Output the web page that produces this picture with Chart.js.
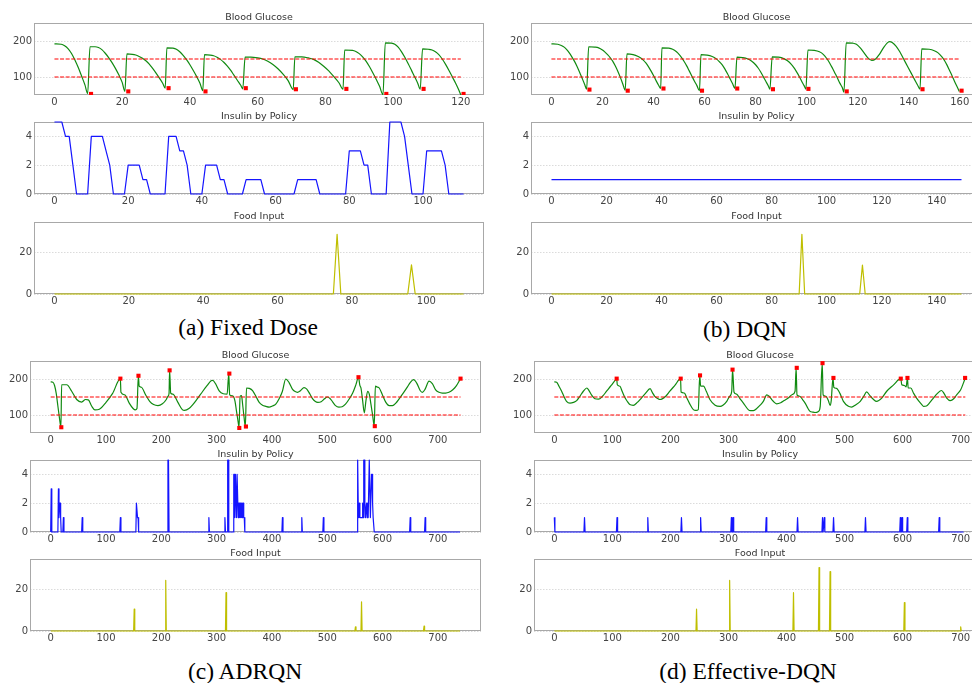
<!DOCTYPE html>
<html>
<head>
<meta charset="utf-8">
<script src="https://cdn.jsdelivr.net/npm/chart.js@4/dist/chart.umd.min.js"></script>
<style>
  body { margin: 0; background: #fff; width: 972px; height: 683px; overflow: hidden; position: relative; }
  canvas { position: absolute; }
  .cap { position: absolute; font-family: "Liberation Serif", "Times New Roman", serif; font-size: 23.5px; color: #000;
         transform: translate(-50%, -50%); white-space: nowrap; }
</style>
</head>
<body>
<div class="cap" style="left:248px;top:327px">(a) Fixed Dose</div>
<div class="cap" style="left:745px;top:329px">(b) DQN</div>
<div class="cap" style="left:245px;top:671px">(c) ADRQN</div>
<div class="cap" style="left:748px;top:671px">(d) Effective-DQN</div>
<script>
// ---- data: [time, value] ----
const targetRange = [100, 150];
const bgTicks = [100, 200];
const insulinTicks = [0, 2, 4];
const foodTicks = [0, 20];
const ticksA = [0, 20, 40, 60, 80, 100, 120];
const ticksAsub = [0, 20, 40, 60, 80, 100];
const ticksB = [0, 20, 40, 60, 80, 100, 120, 140, 160];
const ticksBsub = [0, 20, 40, 60, 80, 100, 120, 140];
const ticksCD = [0, 100, 200, 300, 400, 500, 600, 700];

// (a) Fixed Dose
const bgA = [[0,192],[2,191],[3,187],[4,179],[5,166],[6,148],[7,127],[8,103],[9,78],[9.8,54],
  [10.5,184],[12,184],[13,182],[14,176],[15,166],[16,154],[17,140],[18,124],[19,106],[20,85],[20.8,60],
  [21.4,164],[23,163],[24,161],[25,157],[26,152],[27,145],[28,136],[29,124],[30,111],[31,97],[32,82],[32.7,69],
  [33.2,181],[35,180],[36,177],[37,170],[38,160],[39,148],[40,134],[41,118],[42,101],[43,82],[43.8,62],
  [44.3,162],[46,161],[47,159],[48,155],[49,149],[50,141],[51,131],[52,119],[53,105],[54,91],[55,77],[55.6,67],
  [56.3,155],[58,155],[60,153],[61.5,150],[63,144],[64.5,135],[66,123],[67.5,108],[69,90],[70.5,65],
  [71,156],[73,156],[75,153],[76.5,149],[78,141],[79.5,130],[81,117],[82.5,101],[84,84],[85.2,66],
  [85.7,175],[88,174],[89,171],[90,165],[91,156],[92,144],[93,129],[94,112],[95,94],[96,74],[97,51],
  [97.7,195],[99.5,194],[100.5,191],[101.5,183],[102.5,170],[103.5,154],[104.5,136],[105.5,117],[106.5,98],[107.3,82],[108,66],
  [108.7,178],[110.5,177],[111.5,175],[112.5,170],[113.5,162],[114.5,150],[115.5,135],[116.5,118],[117.5,100],[118.5,82],[119.3,66],[120,50]];
const markA = [[10.8,53],[21.8,60],[33.7,69],[44.6,60],[56.5,69],[71.3,66],[86.2,67],[98,53],[109,67],[120.8,53]];
const insulinA = [5,5,5,4,4,2,0,0,0,0, 4,4,4,4,3,2,0,0,0,0, 2,2,2,2,1,1,0,0,0,0, 0,4,4,4,3,3,2,0,0,0,
  0,2,2,2,2,1,1,0,0,0, 0,0,1,1,1,1,1,0,0,0, 0,0,0,0,0,0,1,1,1,1, 1,1,0,0,0,0,0,0,0,0,
  3,3,3,3,2,2,0,0,0,0, 0,5,5,5,5,4,2,0,0,0, 0,3,3,3,3,3,2,0,0,0, 0,0];
const foodA = [[0,0],[75,0],[76,28.7],[77,0],[95,0],[96,14],[97,0],[110,0]];

// (b) DQN
const bgB = [[0,192],[2.5,191],[4,187],[5,183],[6,176],[7,167],[8,156],[9,144],[10,130],[11,114],[12,97],[13,80],[13.8,66],
  [14.6,184],[17,183],[18.5,181],[20,175],[21,169],[22,162],[23,154],[24,144],[25,131],[26,116],[27,99],[28,80],[28.9,63],
  [29.6,164],[32,162],[34,157],[35,153],[36,147],[37,139],[38,129],[39,117],[40,104],[41,90],[42,77],[42.8,68],
  [43.3,181],[46,180],[47.5,177],[49,170],[50,163],[51,154],[52,143],[53,131],[54,117],[55,103],[56,89],[57,76],[58,62],
  [58.6,162],[61,161],[63,157],[64.5,151],[66,141],[67,133],[68,122],[69,109],[70,95],[71,81],[71.9,68],
  [72.7,155],[75,154],[77,150],[78.5,144],[80,134],[81,125],[82,114],[83,101],[84,88],[85,75],[85.6,66],
  [86.5,156],[89,155],[91,151],[92.5,145],[94,135],[95,126],[96,115],[97,103],[98,89],[99,76],[99.7,66],
  [100.5,175],[103,174],[105,170],[106.5,163],[108,150],[109,139],[110,126],[111,112],[112,98],[113,83],[114,70],[114.6,58],
  [115.5,195],[118,194],[119.5,191],[121,181],[122.5,167],[124,153],[125.5,146],[127,150],[128.5,163],[130,180],[131.5,194],
  [132.5,198],[133.5,196],[135,186],[136.5,170],[138,150],[139.5,130],[141,110],[142.5,90],[143.5,77],[144.4,66],
  [145.1,178],[148,177],[150,173],[151.5,167],[153,156],[154,146],[155,133],[156,118],[157,103],[158,87],[159,72],[159.8,60]];
const markB = [[14.9,65],[29.9,62],[43.9,68],[59,62],[72.8,68],[86.8,66],[100.7,67],[115.7,60],[145.4,66],[160.7,62]];
const insulinB = [[0,1],[149,1]];
const foodB = [[0,0],[90,0],[91,28.7],[92,0],[112,0],[113,13.9],[114,0],[149,0]];

// (c) ADRQN
const bgC = [[0,192],[4,191],[7,182],[10,160],[13,125],[16,90],[18.5,66],
  [19.8,184],[29,184],[38,166],[47,143],[56,136],[63,143],[68,142],[74,125],[80,114],[88,116],[100,135],[112,160],[126,201],
  [127,163],[134,156],[142,133],[149,118],[153,114],[156,118],[158.5,209],[160,180],[164,177],[172,155],[179,138],[186,129],
  [194,126],[202,131],[209,143],[212,152],[214,160],[215,224],[217,161],[221,158],[230,135],[238,115],[242,113],[250,118],
  [257,129],[266,147],[275,166],[283,182],[290,195],[293,196],[298,187],[305,166],[312,159],[319,158],[322,215],
  [323.5,156],[329,153],[333,140],[336,110],[339,80],[340.5,66],[342.5,152],[345,154],[347,130],[349.5,95],[352,68],
  [354,175],[359,174],[365,168],[371,152],[377,135],[383,127],[389,124],[395,122],[401,125],[407,130],[413,145],[419,166],
  [425,200],[431,190],[437,172],[442,165],[446,163],[452,168],[458,176],[463,172],[468,160],[473,146],[478,138],[483,135],
  [489,137],[495,145],[500,150],[505,146],[510,136],[515,126],[521,122],[527,123],[533,130],[540,145],[546,161],[552,185],
  [556.5,205],[559,182],[561,175],[564,140],[567,106],[570,140],[573,166],[576,158],[579,130],[582,100],[585,70],
  [587,180],[590,178],[594,175],[600,155],[606,135],[612,126],[618,126],[624,133],[630,145],[638,162],[645,178],[650,190],
  [656,198],[662,188],[668,168],[672,163],[677,172],[684,194],[690,187],[696,170],[702,163],[708,161],[714,161],[720,163],
  [727,170],[733,180],[741,201]];
const markC = [[19.2,66],[126,201],[158.7,209],[215,224],[323,215],[341,64],[353,68],[556.5,205],[586,69],[741,201]];
const insulinC = [[0,0],[1,3],[2,0],[13,0],[14,3],[15,1],[16,2],[17,2],[18,1],[19,0],[22,0],[23,1],[24,0],[56,0],[57,1],[58,0],
  [125,0],[126,1],[127,0],[154,0],[155,2],[156,2],[157,1],[158,1],[159,0],[211,0],[212,5],[213,5],[214,0],[285,0],[286,1],[287,0],
  [314,0],[315,1],[316,0],[319,0],[320,5],[321,5],[322,0],[330,0],[331,4],[332,4],[333,1],[334,4],[335,4],[336,1],[337,4],[338,4],
  [339,1],[340,2],[341,2],[342,1],[343,2],[344,1],[345,2],[346,1],[347,2],[348,2],[349,1],[350,1],[351,0],[418,0],[419,1],[420,0],
  [453,0],[454,1],[455,0],[492,0],[493,1],[494,0],[554,0],[555,5],[556,2],[557,1],[558,2],[559,1],[560,1],[561,1],[562,1],[563,1],
  [564,2],[565,1],[566,5],[567,5],[568,2],[569,1],[570,1],[571,2],[572,1],[573,2],[574,1],[575,1],[576,5],[577,5],[578,1],[579,1],
  [580,4],[581,4],[582,2],[583,1],[584,1],[585,0],[649,0],[650,1],[651,0],[676,0],[677,1],[678,0],[740,0]];
const foodC = [[0,0],[150,0],[151,10.5],[152,0],[207,0],[208,24.4],[209,0],[316,0],[317,18.4],[318,0],[550,0],[551,2],[552,0],
  [561,0],[562,14],[563,0],[674,0],[675,2.3],[676,0],[740,0]];

// (d) Effective-DQN
const bgD = [[0,192],[4,191],[8,180],[12.6,166],[17,150],[21,138],[27,133],[33,135],[38.5,140],[44,152],[50,166],[56,175],
  [60,167],[64,156],[70,145],[76,144],[83,152],[90,166],[98,182],[106,199],[107.4,201],
  [108.5,184],[113,180],[117,165],[122,147],[126,137],[130,129],[136,127],[143,135],[150,147],[157,160],[165,173],[169,162],
  [173,152],[178,146],[182,143],[185,144],[192,152],[199,166],[208,183],[217.5,201],
  [218.3,164],[224,161],[228,148],[232.6,133],[239.5,115],[244,113],[248,115],[250.5,210],[252,180],[257,180],[262,165],
  [268,143],[277,127],[285.5,124],[291,128],[297,138],[302,152],[305.6,166],[307,226],[309.6,163],[314,158],[320,145],
  [325.7,133],[334,115],[338,112],[343,112],[350,120],[355,128],[360,138],[366,156],[370,152],[374.5,143],[379,135],[383,131],
  [390,134],[396,140],[403,147],[410,157],[414.7,166],[416.5,231],[418,156],[423,152],[428,142],[432,133],[437,118],
  [440.5,110],[445,108],[449,107],[455,110],[458,124],[461.5,244],[463,156],[468,152],[472,140],[475,127],[477,140],[480,203],
  [481.5,177],[486,174],[492,160],[498,138],[506.6,124],[512,122],[519,128],[527,138],[533,152],[538,164],[544,153],[550,143],
  [555,138],[564,147],[572.6,166],[584,183],[596.8,201],[598.5,184],[603,182],[606,178],[608.3,203],[609.5,175],[614,175],
  [619,160],[624,147],[633,129],[636,124],[641,125],[647,135],[653,147],[660,160],[667,168],[672,158],[676,147],[682,140],
  [688,145],[693,156],[700,170],[705,190],[708,203]];
const markD = [[107.4,201],[217.7,201],[251,210],[307,226],[417.6,231],[462,244],[480.8,203],[596.8,201],[608.3,203],[707.6,203]];
const insulinD = [[0,1],[1,0],[51,0],[52,1],[53,0],[107,0],[108,1],[109,0],[160,0],[161,1],[162,0],[218,0],[219,1],[220,0],
  [251,0],[252,1],[253,0],[304,0],[305,1],[306,0],[307,0],[308,1],[309,0],[364,0],[365,1],[366,0],[418,0],[419,1],[420,0],
  [461,0],[462,1],[463,0],[464,0],[465,1],[466,0],[480,0],[481,1],[482,0],[535,0],[536,1],[537,0],[595,0],[596,1],[597,0],
  [598,0],[599,1],[600,0],[607,0],[608,1],[609,0],[662,0],[663,1],[664,0],[705,0]];
const foodD = [[0,0],[244,0],[245,10.5],[246,0],[301,0],[302,24.3],[303,0],[411,0],[412,18.4],[413,0],[455,0],[456,30.5],
  [457,0],[474,0],[475,28.5],[476,0],[602,0],[603,13.7],[604,0],[699,0],[700,2],[701,0],[702,0]];

// ---- drawing ----
const GREEN = '#108a10', RED = '#ff0000', BLUE = '#1515ff', OLIVE = '#bfbf00';
const AX_W = 32, AX_H = 18, PAD_T = 16, PAD_R = 14;

Chart.defaults.font.family = 'DejaVu Sans';

Chart.register({
  id: 'panelFrame',
  beforeDatasetsDraw(chart) {
    const a = chart.chartArea, c = chart.ctx;
    c.save();
    c.strokeStyle = '#a8a8a8';
    c.lineWidth = 1;
    c.strokeRect(Math.round(a.left) + 0.5, Math.round(a.top) + 0.5,
                 Math.round(a.right - a.left) - 1, Math.round(a.bottom - a.top) - 1);
    c.restore();
  },
  afterDraw(chart, args, opts) {
    const a = chart.chartArea, c = chart.ctx;
    c.save();
    c.fillStyle = '#333';
    c.font = '9.5px "DejaVu Sans"';
    c.textAlign = 'center';
    c.textBaseline = 'middle';
    c.fillText(opts.text, (a.left + a.right) / 2, a.top - 5.5);
    c.restore();
  }
});

const xy = pairs => pairs.map(p => ({ x: p[0], y: p[1] }));

function bgSets(curve, marks, dashEnd) {
  return [
    { data: xy(marks), showLine: false, pointRadius: 2.9, pointStyle: 'rect',
      pointBackgroundColor: RED, pointBorderWidth: 0 },
    ...targetRange.map(v => ({ data: [{ x: 0, y: v }, { x: dashEnd, y: v }],
      borderColor: RED, borderWidth: 1, borderDash: [4, 1.6] })),
    { data: xy(curve), borderColor: GREEN, borderWidth: 1.2, cubicInterpolationMode: 'monotone' }
  ];
}
const lineSet = (pairs, color) => [{ data: xy(pairs), borderColor: color, borderWidth: 1.2, clip: 2 }];

function panel(box, xr, yr, xt, yt, title, datasets) {
  const cv = document.createElement('canvas');
  const w = box.r - box.l + AX_W + PAD_R, h = box.b - box.t + PAD_T + AX_H;
  cv.width = w; cv.height = h;
  cv.style.left = (box.l - AX_W) + 'px';
  cv.style.top = (box.t - PAD_T) + 'px';
  cv.style.width = w + 'px';
  cv.style.height = h + 'px';
  document.body.appendChild(cv);
  const tickFont = { family: 'DejaVu Sans', size: 10 };
  new Chart(cv, {
    type: 'line',
    data: { datasets },
    options: {
      responsive: false, animation: false, devicePixelRatio: 1,
      layout: { padding: { top: PAD_T, right: PAD_R, left: 0, bottom: 0 } },
      elements: { point: { radius: 0 }, line: { borderJoinStyle: 'round' } },
      plugins: { legend: { display: false }, tooltip: { enabled: false }, panelFrame: { text: title } },
      scales: {
        x: {
          type: 'linear', min: xr[0], max: xr[1],
          afterBuildTicks: s => { s.ticks = xt.map(v => ({ value: v })); },
          afterFit: s => { s.height = AX_H; },
          grid: { display: false, drawTicks: false },
          border: { display: false },
          ticks: { padding: 1, color: '#444', font: tickFont, maxRotation: 0, autoSkip: false }
        },
        y: {
          type: 'linear', min: yr[0], max: yr[1],
          afterBuildTicks: s => { s.ticks = yt.map(v => ({ value: v })); },
          afterFit: s => { s.width = AX_W; },
          grid: { color: '#d2d2d2', lineWidth: 0.8, drawTicks: false },
          border: { display: false, dash: [1.5, 1.5] },
          ticks: { padding: 2, color: '#444', font: tickFont }
        }
      }
    }
  });
}

const BG_Y = [50, 250], INS_Y = [0, 5], FOOD_Y = [0, 34.6];
const rowTop = { bg: 23, ins: 122, food: 222 }, rowBot = { bg: 361, ins: 460, food: 559 };
const H = 72;

// (a)
panel({ l: 34, t: rowTop.bg, r: 484, b: rowTop.bg + H }, [-6.04, 126.84], BG_Y, ticksA, bgTicks,
      'Blood Glucose', bgSets(bgA, markA, 120));
panel({ l: 34, t: rowTop.ins, r: 484, b: rowTop.ins + H }, [-5.55, 116.55], INS_Y, ticksAsub, insulinTicks,
      'Insulin by Policy', lineSet(insulinA.map((v, i) => [i, v]), BLUE));
panel({ l: 34, t: rowTop.food, r: 484, b: rowTop.food + H }, [-5.5, 115.5], FOOD_Y, ticksAsub, foodTicks,
      'Food Input', lineSet(foodA, OLIVE));
// (b)
panel({ l: 531, t: rowTop.bg, r: 982, b: rowTop.bg + H }, [-8, 168.7], BG_Y, ticksB, bgTicks,
      'Blood Glucose', bgSets(bgB, markB, 160));
panel({ l: 531, t: rowTop.ins, r: 982, b: rowTop.ins + H }, [-7.45, 156.45], INS_Y, ticksBsub, insulinTicks,
      'Insulin by Policy', lineSet(insulinB, BLUE));
panel({ l: 531, t: rowTop.food, r: 982, b: rowTop.food + H }, [-7.45, 156.45], FOOD_Y, ticksBsub, foodTicks,
      'Food Input', lineSet(foodB, OLIVE));
// (c)
panel({ l: 30, t: rowBot.bg, r: 481, b: rowBot.bg + H }, [-37.4, 778], BG_Y, ticksCD, bgTicks,
      'Blood Glucose', bgSets(bgC, markC, 741));
panel({ l: 30, t: rowBot.ins, r: 481, b: rowBot.ins + H }, [-37.4, 778], INS_Y, ticksCD, insulinTicks,
      'Insulin by Policy', lineSet(insulinC, BLUE));
panel({ l: 30, t: rowBot.food, r: 481, b: rowBot.food + H }, [-37.4, 778], FOOD_Y, ticksCD, foodTicks,
      'Food Input', lineSet(foodC, OLIVE));
// (d)
panel({ l: 534, t: rowBot.bg, r: 986, b: rowBot.bg + H }, [-35, 743.6], BG_Y, ticksCD, bgTicks,
      'Blood Glucose', bgSets(bgD, markD, 708));
panel({ l: 534, t: rowBot.ins, r: 986, b: rowBot.ins + H }, [-35, 743.6], INS_Y, ticksCD, insulinTicks,
      'Insulin by Policy', lineSet(insulinD, BLUE));
panel({ l: 534, t: rowBot.food, r: 986, b: rowBot.food + H }, [-35, 743.6], FOOD_Y, ticksCD, foodTicks,
      'Food Input', lineSet(foodD, OLIVE));
</script>
</body>
</html>
